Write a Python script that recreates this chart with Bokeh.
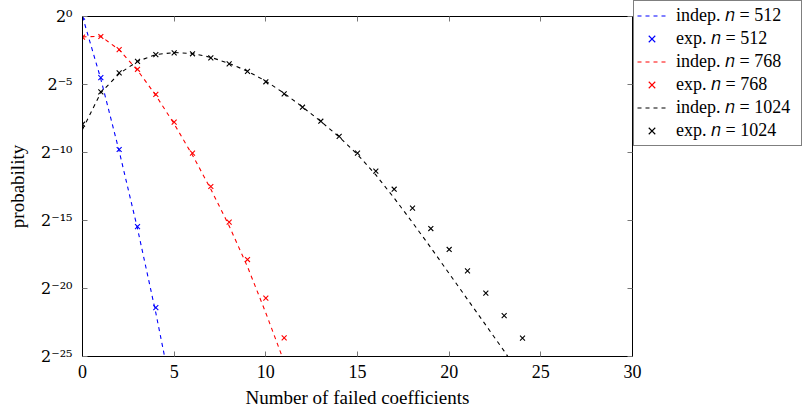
import numpy as np
from bokeh.plotting import figure
from bokeh.layouts import row
from bokeh.models import (FixedTicker, CustomJSTickFormatter, LogAxis, LinearAxis,
                          Legend, LegendItem, Range1d)
from bokeh.embed import file_html
from bokeh.resources import INLINE

# ---------------- data ----------------
x_ticks = [0, 5, 10, 15, 20, 25, 30]
y_tick_exponents = [0, -5, -10, -15, -20, -25]
y_tick_labels = ["2⁰", "2⁻⁵", "2⁻¹⁰", "2⁻¹⁵", "2⁻²⁰", "2⁻²⁵"]

# n = 512
k_indep_512 = [0, 1, 2, 3, 4, 5]
log2p_indep_512 = [0.0, -4.6, -9.9, -15.6, -21.8, -28.5]
k_exp_512 = [0, 1, 2, 3, 4]
log2p_exp_512 = [-0.05, -4.5, -9.78, -15.45, -21.4]

# n = 768
k_indep_768 = [0, 1, 2, 3, 4, 5, 6, 7, 8, 9, 10, 11, 12]
log2p_indep_768 = [-1.5, -1.45, -2.45, -3.95, -5.8, -7.9, -10.2, -12.7, -15.4,
                   -18.4, -21.8, -25.4, -29.0]
k_exp_768 = [0, 1, 2, 3, 4, 5, 6, 7, 8, 9, 10, 11]
log2p_exp_768 = [-1.52, -1.47, -2.44, -3.88, -5.72, -7.77, -10.05, -12.5, -15.12,
                 -17.87, -20.71, -23.63]

# n = 1024
k_indep_1024 = list(range(0, 25))
log2p_indep_1024 = [-8.3, -5.6, -4.2, -3.3, -2.8, -2.65, -2.72, -3.0, -3.45, -4.02,
                    -4.75, -5.65, -6.65, -7.72, -8.85, -10.15, -11.65, -13.35,
                    -15.15, -17.0, -18.9, -20.8, -22.7, -24.6, -26.6]
k_exp_1024 = list(range(0, 25))
log2p_exp_1024 = [-7.92, -5.54, -4.15, -3.3, -2.8, -2.67, -2.74, -3.04, -3.48, -4.04,
                  -4.8, -5.69, -6.67, -7.7, -8.82, -10.05, -11.37, -12.7, -14.09,
                  -15.59, -17.13, -18.7, -20.34, -21.99, -23.65]

series = [
    ("512", "#0000ff", k_indep_512, log2p_indep_512, k_exp_512, log2p_exp_512),
    ("768", "#ff0000", k_indep_768, log2p_indep_768, k_exp_768, log2p_exp_768),
    ("1024", "#000000", k_indep_1024, log2p_indep_1024, k_exp_1024, log2p_exp_1024),
]

FONT = "Liberation Serif"

p = figure(frame_width=550, frame_height=340,
           min_border_left=82, min_border_right=10, min_border_top=16, min_border_bottom=56,
           x_range=Range1d(0, 30), y_range=Range1d(2.0 ** -25, 1.0),
           y_axis_type="log", output_backend="svg", toolbar_location=None)

p.xgrid.visible = False
p.ygrid.visible = False
p.outline_line_color = "black"
p.outline_line_width = 1
p.background_fill_color = "white"
p.border_fill_color = "white"

blank = "return '';"

# main axes
xa = p.xaxis[0]
xa.ticker = FixedTicker(ticks=x_ticks)
xa.axis_label = "Number of failed coefficients"
ya = p.yaxis[0]
ya.ticker = FixedTicker(ticks=[2.0 ** e for e in y_tick_exponents])
ya.formatter = CustomJSTickFormatter(
    args=dict(exps=y_tick_exponents, labels=y_tick_labels),
    code="""
const e = Math.round(Math.log2(tick));
const i = exps.indexOf(e);
return i >= 0 ? labels[i] : '';
""")
ya.axis_label = "probability"

for ax in (xa, ya):
    ax.minor_tick_line_color = None
    ax.major_tick_in = 5
    ax.major_tick_out = 0
    ax.major_tick_line_color = "#777777"
    ax.axis_line_color = "black"
    ax.major_label_text_font = FONT
    ax.major_label_text_font_size = "18px"
    ax.major_label_text_color = "black"
    ax.axis_label_text_font = FONT
    ax.axis_label_text_font_size = "19px"
    ax.axis_label_text_font_style = "normal"
    ax.axis_label_text_color = "black"

ya.major_label_text_font = "DejaVu Serif"
ya.major_label_text_font_size = "16px"

xa.major_label_standoff = 8
xa.axis_label_standoff = 6
ya.major_label_standoff = 10
ya.axis_label_standoff = 10

top = LinearAxis(ticker=FixedTicker(ticks=x_ticks),
                 formatter=CustomJSTickFormatter(code=blank))
right = LogAxis(ticker=FixedTicker(ticks=[2.0 ** e for e in y_tick_exponents]),
                formatter=CustomJSTickFormatter(code=blank))
for ax in (top, right):
    ax.minor_tick_line_color = None
    ax.major_tick_in = 5
    ax.major_tick_out = 0
    ax.major_tick_line_color = "#777777"
    ax.axis_line_color = "black"
    ax.major_label_standoff = 0
p.add_layout(top, "above")
p.add_layout(right, "right")

# ---- legend lives in its own small figure to the right of the plot ----
# (its renderers carry the same data, but its y range lies above all
#  probabilities, so only the legend keys are visible)
lf = figure(width=171, height=414, min_border=0, x_range=Range1d(0, 1),
            y_range=Range1d(10, 11), output_backend="svg", toolbar_location=None)
lf.axis.visible = False
lf.xgrid.visible = False
lf.ygrid.visible = False
lf.outline_line_color = None
lf.background_fill_alpha = 0
lf.border_fill_alpha = 0
lf.margin = (0, 0, 0, -10)
for fig in (p, lf):
    try:
        fig.frame_align = False
    except Exception:
        pass

items = []
for n, color, ki, li, ke, le in series:
    p.line(ki, [2.0 ** v for v in li], line_color=color, line_width=1.1,
           line_dash="4 4")
    p.scatter(ke, [2.0 ** v for v in le], marker="x", size=7,
              line_color=color, line_width=1.1)
    k_line = lf.line(ki, [2.0 ** v for v in li], line_color=color, line_width=1.1,
                     line_dash="4 4")
    k_pts = lf.scatter(ke, [2.0 ** v for v in le], marker="x", size=5,
                       line_color=color, line_width=1.1)
    items.append(LegendItem(label=f"indep. 𝑛 = {n}", renderers=[k_line]))
    items.append(LegendItem(label=f"exp. 𝑛 = {n}", renderers=[k_pts]))

legend = Legend(items=items, location=(1, 268),
                label_text_font=FONT, label_text_font_size="18px",
                label_text_color="black",
                glyph_width=29, glyph_height=23, label_height=23, label_width=122,
                spacing=0, padding=3, label_standoff=10,
                border_line_color="black", border_line_width=1,
                background_fill_color="white", background_fill_alpha=1.0,
                margin=0)
lf.add_layout(legend)

layout = row(p, lf, spacing=0)
open("out.html", "w").write(file_html(layout, INLINE))
